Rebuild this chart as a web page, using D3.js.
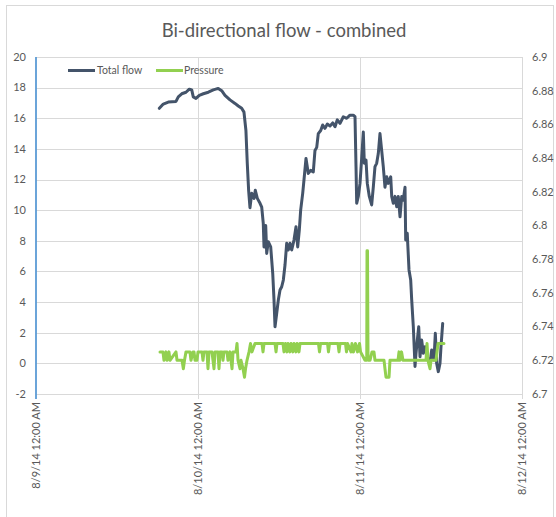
<!DOCTYPE html>
<html>
<head>
<meta charset="utf-8">
<script src="https://cdn.jsdelivr.net/npm/d3@7"></script>
<style>
  html, body { margin: 0; padding: 0; background: #fff; }
  svg { display: block; }
  text { font-family: Lato, "Open Sans", sans-serif; fill: #595959; }
</style>
</head>
<body>
<svg id="chart" width="556" height="517"></svg>
<script>
// ---- data (hours after 8/9/14 12:00 AM) ----
const title = "Bi-directional flow - combined";
const seriesNames = ["Total flow", "Pressure"];
const xTickDates = ["2014-08-09", "2014-08-10", "2014-08-11", "2014-08-12"];
const xTickLabels = ["8/9/14 12:00 AM", "8/10/14 12:00 AM", "8/11/14 12:00 AM", "8/12/14 12:00 AM"];
const leftTicks = [-2, 0, 2, 4, 6, 8, 10, 12, 14, 16, 18, 20];
const rightTicks = [6.7, 6.72, 6.74, 6.76, 6.78, 6.8, 6.82, 6.84, 6.86, 6.88, 6.9];
const rightTickLabels = ["6.7", "6.72", "6.74", "6.76", "6.78", "6.8", "6.82", "6.84", "6.86", "6.88", "6.9"];

const flowHours = [18.27, 18.86, 19.6, 20.74, 21.08, 21.59, 22.22, 22.71, 23.07, 23.3, 23.7, 24.19, 24.79, 25.53,
  26.27, 27.0, 27.51, 28.0, 28.74, 29.48, 29.97, 30.47, 30.81, 31.1, 31.3, 31.5, 31.7, 31.96, 32.3, 32.49, 32.79,
  33.19, 33.44, 33.67, 33.78, 34.03, 34.18, 34.41, 34.77, 35.07, 35.26, 35.41, 35.66, 35.9, 36.15, 36.4, 36.64,
  36.89, 37.14, 37.38, 37.63, 37.88, 38.22, 38.52, 38.77, 39.01, 39.21, 39.51, 39.7, 40.0, 40.34, 40.7, 41.08,
  41.33, 41.59, 41.82, 42.18, 42.47, 42.81, 43.16, 43.56, 43.96, 44.3, 44.64, 45.04, 45.53, 46.03, 46.52, 47.0,
  47.26, 47.41, 47.51, 47.75, 48.0, 48.25, 48.49, 48.64, 48.89, 49.08, 49.38, 49.73, 49.97, 50.22, 50.47, 50.71,
  50.96, 51.21, 51.45, 51.7, 51.96, 52.19, 52.55, 52.7, 52.93, 53.19, 53.44, 53.67, 53.93, 54.18, 54.41, 54.67,
  54.77, 55.0, 55.26, 55.51, 55.66, 55.9, 56.15, 56.3, 56.49, 56.7, 56.89, 57.14, 57.38, 57.63, 57.97, 58.37,
  58.62, 58.96, 59.16, 59.36, 59.6, 59.85, 60.0, 60.25];
const flowValues = [16.65, 16.93, 17.06, 17.1, 17.4, 17.6, 17.7, 17.9, 17.85, 17.4, 17.3, 17.5, 17.6, 17.7,
  17.85, 17.95, 17.8, 17.5, 17.2, 16.97, 16.8, 16.65, 16.4, 15.2, 13.06, 11.3, 10.16, 11.1, 10.77, 11.3, 10.77,
  10.45, 10.2, 9.14, 7.6, 9.0, 7.18, 7.94, 7.6, 5.88, 4.14, 2.39, 3.27, 4.14, 4.79, 5.0, 5.44,
  6.42, 7.84, 7.4, 7.84, 7.4, 8.05, 8.92, 7.6, 8.7, 10.0, 11.1, 11.97, 13.38, 12.4, 12.6, 12.5,
  13.9, 14.1, 15.0, 15.2, 15.56, 15.34, 15.62, 15.5, 15.7, 15.45, 15.9, 15.67, 16.1, 16.0, 16.2, 16.2,
  16.1, 12.84, 10.45, 10.9, 11.75, 13.4, 15.1, 13.06, 13.27, 11.75, 10.9, 10.34, 11.5, 12.84, 13.06, 13.7,
  15.0, 13.9, 12.84, 11.5, 12.18, 11.75, 12.18, 10.9, 10.45, 10.9, 10.23, 10.9, 9.57, 10.9, 10.66, 11.5,
  8.05, 8.49, 6.1, 5.44, 4.14, 2.39, -0.2, 0.66, 1.52, 2.39, 0.43, 1.52, 0.66, 1.09, 0.43, 0.0,
  0.87, 0.22, 1.96, 0.0, -0.54, 0.0, 1.09, 2.61];

const pressureHours = [18.37, 18.81, 18.96, 19.26, 19.41, 19.7, 19.85, 20.74, 20.89, 21.63, 21.83, 22.0, 22.22,
  22.81, 22.96, 23.26, 23.41, 23.56, 23.85, 24.0, 24.59, 24.74, 24.89, 25.33, 25.48, 25.63, 26.07, 26.22, 26.37,
  26.52, 26.96, 27.11, 27.26, 27.56, 27.7, 27.85, 28.3, 28.44, 28.74, 29.04, 29.19, 29.63, 29.78, 29.93, 30.22,
  30.37, 30.67, 30.89, 31.04, 31.26, 31.56, 31.78, 32.0, 32.44, 33.48, 33.63, 33.78, 35.41, 35.56, 35.7, 36.59,
  36.74, 36.96, 37.19, 37.33, 37.63, 37.78, 38.07, 38.22, 38.52, 38.67, 38.96, 39.11, 41.85, 42.0, 42.15, 43.19,
  43.33, 43.48, 44.74, 44.89, 45.04, 45.85, 46.0, 46.15, 46.67, 46.81, 46.96, 47.04, 47.33, 47.63, 47.93, 48.08,
  48.74, 49.0, 49.04, 49.11, 49.19, 49.26, 49.48, 49.78, 50.07, 50.22, 50.37, 51.56, 51.7, 51.85, 52.3, 52.44,
  53.63, 53.78, 53.93, 54.15, 54.37, 57.78, 57.93, 58.07, 58.37, 58.52, 59.26, 59.56, 60.15, 60.44];
const pressureValues = [6.725, 6.725, 6.72, 6.725, 6.72, 6.725, 6.72, 6.725, 6.72, 6.72, 6.715, 6.72, 6.725,
  6.725, 6.72, 6.725, 6.725, 6.72, 6.72, 6.725, 6.725, 6.72, 6.725, 6.725, 6.715, 6.725, 6.725, 6.72, 6.715,
  6.725, 6.725, 6.715, 6.725, 6.725, 6.72, 6.725, 6.725, 6.72, 6.725, 6.715, 6.725, 6.725, 6.73, 6.72, 6.715,
  6.72, 6.715, 6.71, 6.715, 6.72, 6.725, 6.73, 6.725, 6.73, 6.73, 6.725, 6.73, 6.73, 6.725, 6.73, 6.73,
  6.725, 6.73, 6.725, 6.73, 6.725, 6.73, 6.725, 6.73, 6.725, 6.73, 6.725, 6.73, 6.73, 6.725, 6.73, 6.73,
  6.725, 6.73, 6.73, 6.725, 6.73, 6.73, 6.725, 6.73, 6.725, 6.73, 6.725, 6.725, 6.73, 6.725, 6.73, 6.725,
  6.72, 6.72, 6.785, 6.785, 6.72, 6.72, 6.72, 6.725, 6.725, 6.72, 6.72, 6.72, 6.715, 6.71, 6.71, 6.72,
  6.72, 6.725, 6.72, 6.725, 6.72, 6.72, 6.73, 6.72, 6.715, 6.72, 6.72, 6.73, 6.73, 6.73];

// ---- layout ----
const W = 556, H = 517;
const plot = { left: 36, right: 522, top: 57, bottom: 394 };
const base = new Date(2014, 7, 9, 0, 0, 0);
const toDate = h => new Date(base.getTime() + h * 3600 * 1000);
const parseDay = s => { const p = s.split("-").map(Number); return new Date(p[0], p[1] - 1, p[2]); };

const svg = d3.select("#chart");

// outer chart border
svg.append("rect").attr("x", 6.5).attr("y", 5.5).attr("width", 547).attr("height", 530)
  .attr("fill", "#fff").attr("stroke", "#d9d9d9").attr("stroke-width", 1);

const x = d3.scaleTime().domain([parseDay(xTickDates[0]), parseDay(xTickDates[3])]).range([plot.left, plot.right]);
const yL = d3.scaleLinear().domain([-2, 20]).range([plot.bottom, plot.top]);
const yR = d3.scaleLinear().domain([6.7, 6.9]).range([plot.bottom, plot.top]);

// horizontal gridlines
svg.append("g").selectAll("line").data(leftTicks).join("line")
  .attr("x1", plot.left).attr("x2", plot.right)
  .attr("y1", d => Math.round(yL(d)) + 0.5).attr("y2", d => Math.round(yL(d)) + 0.5)
  .attr("stroke", "#d9d9d9").attr("stroke-width", 1);

// vertical gridlines
const xDates = xTickDates.map(parseDay);
svg.append("g").selectAll("line").data(xDates.slice(1)).join("line")
  .attr("x1", d => Math.round(x(d)) + 0.5).attr("x2", d => Math.round(x(d)) + 0.5)
  .attr("y1", plot.top).attr("y2", plot.bottom + 5)
  .attr("stroke", "#d9d9d9").attr("stroke-width", 1);

// left axis line (blue)
svg.append("line").attr("x1", plot.left).attr("x2", plot.left)
  .attr("y1", plot.top).attr("y2", plot.bottom + 5)
  .attr("stroke", "#5b9bd5").attr("stroke-width", 1.8);

// left axis labels
svg.append("g").selectAll("text").data(leftTicks).join("text")
  .attr("x", 26).attr("y", d => yL(d)).attr("dy", "0.35em")
  .attr("text-anchor", "end").attr("font-size", 11).text(d => d);

// right axis labels
svg.append("g").selectAll("text").data(rightTicks).join("text")
  .attr("x", 532).attr("y", d => yR(d)).attr("dy", "0.35em")
  .attr("text-anchor", "start").attr("font-size", 11).text((d, i) => rightTickLabels[i]);

// x axis labels rotated
svg.append("g").selectAll("text").data(xDates).join("text")
  .attr("transform", d => `translate(${x(d) + 4},${plot.bottom + 8}) rotate(-90)`)
  .attr("text-anchor", "end").attr("font-size", 11).text((d, i) => xTickLabels[i]);

// lines
const flowData = flowHours.map((h, i) => ({ t: toDate(h), v: flowValues[i] }));
const presData = pressureHours.map((h, i) => ({ t: toDate(h), v: pressureValues[i] }));

svg.append("path").datum(flowData)
  .attr("fill", "none").attr("stroke", "#44546a").attr("stroke-width", 3)
  .attr("stroke-linejoin", "round").attr("stroke-linecap", "round")
  .attr("d", d3.line().x(d => x(d.t)).y(d => yL(d.v)));

svg.append("path").datum(presData)
  .attr("fill", "none").attr("stroke", "#92d050").attr("stroke-width", 3)
  .attr("stroke-linejoin", "round").attr("stroke-linecap", "round")
  .attr("d", d3.line().x(d => x(d.t)).y(d => yR(d.v)));

// title
svg.append("text").attr("x", 284).attr("y", 37).attr("text-anchor", "middle")
  .attr("font-size", 18.5).text(title);

// legend
const legend = svg.append("g");
const legendItems = [
  { name: seriesNames[0], color: "#44546a", x1: 68, x2: 95, tx: 97 },
  { name: seriesNames[1], color: "#92d050", x1: 156, x2: 183, tx: 184 }
];
legendItems.forEach(it => {
  legend.append("line").attr("x1", it.x1).attr("x2", it.x2).attr("y1", 70.5).attr("y2", 70.5)
    .attr("stroke", it.color).attr("stroke-width", 3);
  legend.append("text").attr("x", it.tx).attr("y", 70.5).attr("dy", "0.35em")
    .attr("font-size", 10.5).text(it.name);
});
</script>
</body>
</html>
